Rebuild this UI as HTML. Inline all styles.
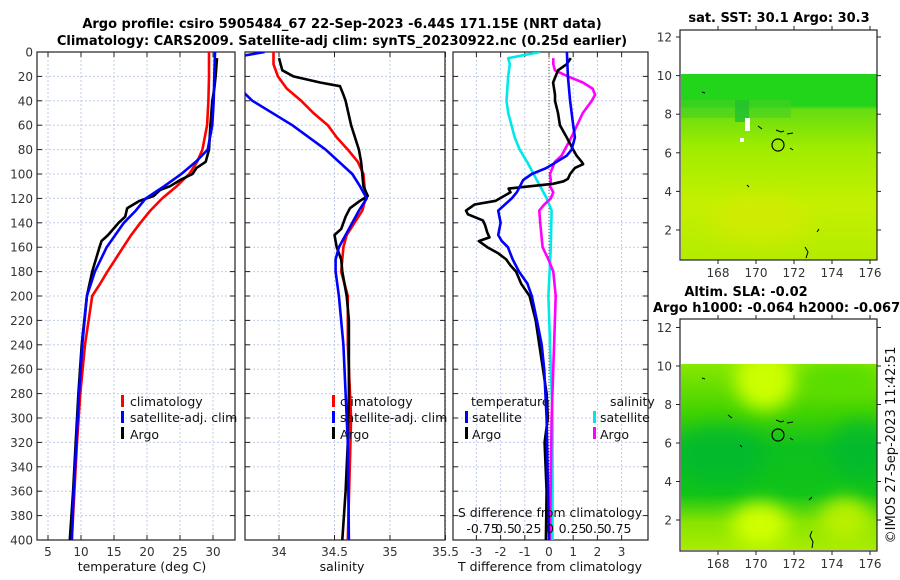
<!DOCTYPE html>
<html><head><meta charset="utf-8">
<style>
body{margin:0;background:#fff;}
svg{display:block;font-family:"DejaVu Sans","Liberation Sans",sans-serif;}
.tk{font-size:12px;fill:#333;}
.tt{font-size:13px;font-weight:bold;fill:#000;}
.lg{font-size:12.5px;fill:#111;}
</style></head>
<body>
<svg id="c" width="900" height="580" viewBox="0 0 900 580" xmlns="http://www.w3.org/2000/svg">
<defs>
<clipPath id="cp1"><rect x="37" y="52" width="198" height="488"/></clipPath>
<clipPath id="cp2"><rect x="245" y="52" width="200" height="488"/></clipPath>
<clipPath id="cp3"><rect x="453" y="52" width="195" height="488"/></clipPath>
<linearGradient id="m1g" x1="0" y1="0" x2="0" y2="1">
<stop offset="0" stop-color="#22d41a"/><stop offset="0.17" stop-color="#22d41a"/>
<stop offset="0.19" stop-color="#66dd11"/><stop offset="0.4" stop-color="#a0ec00"/>
<stop offset="0.7" stop-color="#c4f000"/><stop offset="1" stop-color="#b4ec00"/></linearGradient>
<linearGradient id="m2g" x1="0" y1="0" x2="0" y2="1">
<stop offset="0" stop-color="#88e800"/><stop offset="0.25" stop-color="#44d400"/>
<stop offset="0.45" stop-color="#0cc020"/><stop offset="0.7" stop-color="#10c418"/>
<stop offset="0.85" stop-color="#88e400"/><stop offset="1" stop-color="#a8ec00"/></linearGradient>
<filter id="bl" x="-50%" y="-50%" width="200%" height="200%"><feGaussianBlur stdDeviation="9"/></filter>
<clipPath id="cm2"><rect x="681" y="364" width="196" height="186"/></clipPath>
</defs>

<text class="tt" x="342" y="28" text-anchor="middle">Argo profile: csiro 5905484_67 22-Sep-2023 -6.44S 171.15E (NRT data)</text>
<text class="tt" x="342" y="45" text-anchor="middle">Climatology: CARS2009. Satellite-adj clim: synTS_20230922.nc (0.25d earlier)</text>

<g id="p1"></g>
<g id="p2"></g>
<g id="p3"></g>

<g>
<rect x="121" y="395" width="3" height="12" fill="#f00"/><text class="lg" x="130" y="406">climatology</text>
<rect x="121" y="411" width="3" height="12" fill="#00f"/><text class="lg" x="130" y="422">satellite-adj. clim</text>
<rect x="121" y="427" width="3" height="12" fill="#000"/><text class="lg" x="130" y="439">Argo</text>
</g>
<g>
<rect x="332" y="395" width="3" height="12" fill="#f00"/><text class="lg" x="340" y="406">climatology</text>
<rect x="332" y="411" width="3" height="12" fill="#00f"/><text class="lg" x="340" y="422">satellite-adj. clim</text>
<rect x="332" y="427" width="3" height="12" fill="#000"/><text class="lg" x="340" y="439">Argo</text>
</g>
<g>
<text class="lg" x="471" y="406">temperature</text><text class="lg" x="610" y="406">salinity</text>
<rect x="465" y="411" width="3" height="12" fill="#00f"/><text class="lg" x="472" y="422">satellite</text>
<rect x="465" y="427" width="3" height="12" fill="#000"/><text class="lg" x="472" y="439">Argo</text>
<rect x="593" y="411" width="3" height="12" fill="#00e5e5"/><text class="lg" x="600" y="422">satellite</text>
<rect x="593" y="427" width="3" height="12" fill="#f0f"/><text class="lg" x="600" y="439">Argo</text>
</g>
<text class="lg" x="550" y="517" text-anchor="middle">S difference from climatology</text>
<g id="slab"></g>

<text class="lg" x="142" y="571" text-anchor="middle">temperature (deg C)</text>
<text class="lg" x="342" y="571" text-anchor="middle">salinity</text>
<text class="lg" x="550" y="571" text-anchor="middle">T difference from climatology</text>

<text class="tt" x="779" y="22" text-anchor="middle">sat. SST: 30.1 Argo: 30.3</text>
<g>
<rect x="681" y="74" width="196" height="186" fill="url(#m1g)"/>
<rect x="681" y="100" width="110" height="18" fill="#44d022" opacity="0.6"/>
<rect x="735" y="100" width="14" height="22" fill="#22c030" opacity="0.8"/>
<rect x="745" y="118" width="5" height="13" fill="#fff"/>
<rect x="740" y="138" width="4" height="4" fill="#fff"/>
<ellipse cx="760" cy="220" rx="50" ry="25" fill="#d8ea00" opacity="0.6" filter="url(#bl)"/>
<circle cx="778" cy="145" r="6" fill="none" stroke="#000" stroke-width="1.2"/>
<path d="M776 130 l5 2 l3 -1 M787 134 l6 -1 M758 126 l4 3 M790 148 l3 2 M806 258 l2 -6 l-3 -5 M817 232 l2 -3 M702 92 l3 1 M747 185 l2 2" stroke="#000" fill="none" stroke-width="1"/>
</g>
<g id="m1ax"></g>

<text class="tt" x="746" y="296" text-anchor="middle">Altim. SLA: -0.02</text>
<text class="tt" x="653" y="312">Argo h1000: -0.064 h2000: -0.067</text>
<g clip-path="url(#cm2)">
<rect x="681" y="364" width="196" height="186" fill="url(#m2g)"/>
<ellipse cx="765" cy="380" rx="30" ry="30" fill="#ccff00" filter="url(#bl)"/>
<ellipse cx="840" cy="378" rx="40" ry="14" fill="#55dd00" filter="url(#bl)"/>
<ellipse cx="760" cy="525" rx="28" ry="22" fill="#d0ff00" filter="url(#bl)"/>
<ellipse cx="845" cy="520" rx="25" ry="22" fill="#b8f000" filter="url(#bl)"/>
<ellipse cx="720" cy="455" rx="45" ry="30" fill="#00b830" opacity="0.7" filter="url(#bl)"/>
<ellipse cx="860" cy="450" rx="30" ry="30" fill="#00b830" opacity="0.7" filter="url(#bl)"/>
<circle cx="778" cy="435" r="6" fill="none" stroke="#000" stroke-width="1.2"/>
<path d="M776 420 l5 2 l3 -1 M787 423 l6 -1 M728 415 l4 3 M790 438 l3 2 M812 548 l1 -6 l-3 -6 l2 -5 M809 500 l3 -3 M702 378 l3 1 M740 445 l2 2" stroke="#000" fill="none" stroke-width="1"/>
</g>
<g id="m2ax"></g>
<text class="lg" x="0" y="0" transform="translate(895,445) rotate(-90)" text-anchor="middle" style="font-size:13px">©IMOS 27-Sep-2023 11:42:51</text>
</svg>
<script>
const depthTicks=[0,20,40,60,80,100,120,140,160,180,200,220,240,260,280,300,320,340,360,380,400];
const tempTicks=[5,10,15,20,25,30];
const tClimD=[0,20,40,60,80,90,100,110,120,130,140,150,160,170,180,190,200,240,280,320,360,400];
const tClimV=[29.4,29.4,29.3,29.1,28.4,27.6,26.4,24.5,22.3,20.5,19,17.6,16.4,15.2,14,12.9,11.7,10.6,9.9,9.4,9.0,8.6];
const tSatD=[0,20,40,60,80,90,100,110,120,130,140,150,160,180,200,240,280,320,360,400];
const tSatV=[30.3,30.2,30.1,29.9,29.2,27.4,25.2,22.6,19.8,18.3,16.5,15.2,13.9,12.1,10.9,10.2,9.7,9.3,8.9,8.6];
const tArgoD=[5,20,30,40,60,80,90,95,100,105,110,113,118,122,128,135,140,150,155,160,180,200,240,280,320,360,400];
const tArgoV=[30.6,30.4,30.2,29.9,29.6,29.4,28.9,27.5,26.9,25,23.5,22,21,18.9,17,16.7,15.7,14.1,13.1,12.8,11.7,10.9,10.1,9.6,9.2,8.8,8.3];
const salTicks=[34,34.5,35,35.5];
const sClimD=[0,10,20,30,40,50,60,70,80,90,100,110,120,130,140,150,160,180,200,240,300,400];
const sClimV=[33.95,33.95,33.99,34.07,34.2,34.31,34.44,34.52,34.62,34.71,34.76,34.77,34.78,34.75,34.68,34.61,34.58,34.56,34.62,34.62,34.65,34.62];
const sSatD=[0,3,20,33,40,60,80,100,110,120,130,140,150,160,170,180,200,240,280,320,400];
const sSatV=[33.87,33.68,33.5,33.68,33.76,34.12,34.42,34.66,34.73,34.79,34.72,34.66,34.6,34.54,34.51,34.51,34.54,34.58,34.6,34.62,34.63];
const sArgoD=[5,15,20,25,28,35,40,60,80,90,100,110,118,122,128,135,145,150,160,170,180,200,220,240,280,320,360,400];
const sArgoV=[34.0,34.03,34.13,34.37,34.55,34.58,34.6,34.65,34.72,34.74,34.75,34.76,34.8,34.73,34.64,34.6,34.56,34.5,34.52,34.56,34.57,34.61,34.63,34.63,34.63,34.62,34.6,34.57];
const tDiffTicks=[-3,-2,-1,0,1,2,3];
const sDiffTicks=[-0.75,-0.5,-0.25,0,0.25,0.5,0.75];
const sDiffLabels=["-0.75","0.5","0.25","0","0.25","0.5","0.75"];
const dTSatD=[0,20,40,60,70,80,85,90,95,100,105,110,115,120,130,140,150,155,160,170,180,190,200,220,240,260,300,400];
const dTSatV=[0.74,0.78,0.87,1.0,1.07,0.94,0.73,0.32,-0.1,-0.71,-1.07,-1.2,-1.33,-1.54,-2.1,-2.0,-2.1,-1.95,-1.7,-1.5,-1.24,-0.89,-0.71,-0.5,-0.3,-0.2,-0.1,0];
const dTArgoD=[5,10,15,25,35,40,50,60,70,80,85,90,92,95,100,104,106,108,112,115,118,122,125,130,133,138,142,148,152,155,160,165,170,175,180,190,200,220,240,260,280,300,320,360,400];
const dTArgoV=[0.9,0.73,0.37,0.17,0.25,0.25,0.37,0.45,0.73,1.0,1.14,1.35,1.41,1.07,0.87,0.78,0.6,0.17,-1.67,-1.59,-1.86,-2.2,-3.07,-3.43,-3.35,-2.73,-2.64,-2.55,-2.46,-2.9,-2.55,-2.1,-1.77,-1.59,-1.36,-1.15,-0.8,-0.55,-0.4,-0.25,-0.1,-0.05,-0.18,-0.1,-0.13];
const dSSatD=[0,5,10,20,40,50,60,70,80,90,100,110,120,130,160,200,300,400];
const dSSatV=[-0.12,-0.51,-0.49,-0.51,-0.53,-0.51,-0.47,-0.43,-0.37,-0.28,-0.2,-0.12,-0.04,0.02,0.01,-0.02,0.03,0.03];
const dSArgoD=[5,10,15,20,25,30,35,40,50,60,70,80,85,90,100,105,110,115,120,125,130,140,160,170,180,200,220,300,400];
const dSArgoV=[0.04,0.04,0.06,0.22,0.4,0.52,0.55,0.51,0.4,0.33,0.26,0.18,0.14,0.06,0,0.01,0,0.04,0.01,-0.07,-0.13,-0.12,-0.09,-0.02,0.04,0.07,0.06,0.02,0.0];
const lonTicks=[168,170,172,174,176];
const latTicks=[2,4,6,8,10,12];

const NS="http://www.w3.org/2000/svg";
function mk(tag,attrs,parent){const e=document.createElementNS(NS,tag);for(const k in attrs)e.setAttribute(k,attrs[k]);parent.appendChild(e);return e;}
const yD=d=>52+d*1.22;
const xT=v=>48+(v-5)*6.6;
const xS=v=>279+(v-34)*111;
const xDT=v=>549+v*24.2;
const xDS=v=>550+v*82;
const xDSlab=v=>550+v*90;

function panel(g,x0,x1,xt,xf,showY){
  for(const d of depthTicks){
    const y=yD(d);
    const l=mk('line',{x1:x0,x2:x1,y1:y,y2:y,stroke:'#c0cbec','stroke-dasharray':'2,2','stroke-width':1},g);
    
    
    mk('line',{x1:x0,x2:x0+5,y1:y,y2:y,stroke:'#222'},g);
    mk('line',{x1:x1-5,x2:x1,y1:y,y2:y,stroke:'#222'},g);
    if(showY){const t=mk('text',{x:x0-4,y:y+4.5,'text-anchor':'end',class:'tk'},g);t.textContent=d;
      
      }
  }
  for(const v of xt){
    const x=xf(v);
    const l=mk('line',{x1:x,x2:x,y1:52,y2:540,stroke:'#c0cbec','stroke-dasharray':'2,2'},g);
    
    
    mk('line',{x1:x,x2:x,y1:535,y2:540,stroke:'#222'},g);
    mk('line',{x1:x,x2:x,y1:52,y2:57,stroke:'#222'},g);
    const t=mk('text',{x:x,y:556,'text-anchor':'middle',class:'tk'},g);t.textContent=v;
    
    
  }
  const b=mk('rect',{x:x0,y:52,width:x1-x0,height:488,fill:'none',stroke:'#222','stroke-width':1.2},g);
  
  
}
function line(g,D,V,xf,col,clip,name){
  const p=mk('polyline',{points:D.map((d,i)=>xf(V[i]).toFixed(1)+','+yD(d).toFixed(1)).join(' '),fill:'none',stroke:col,'stroke-width':2.6,'stroke-linejoin':'round','clip-path':'url(#'+clip+')'},g);
  
  
}
const p1=document.getElementById('p1'),p2=document.getElementById('p2'),p3=document.getElementById('p3');
panel(p1,37,235,tempTicks,xT,true);
line(p1,tClimD,tClimV,xT,'#f00','cp1','temp-climatology-line');
line(p1,tArgoD,tArgoV,xT,'#000','cp1','temp-argo-line');
line(p1,tSatD,tSatV,xT,'#00f','cp1','temp-satellite-line');
panel(p2,245,445,salTicks,xS,false);
line(p2,sClimD,sClimV,xS,'#f00','cp2','sal-climatology-line');
line(p2,sArgoD,sArgoV,xS,'#000','cp2','sal-argo-line');
line(p2,sSatD,sSatV,xS,'#00f','cp2','sal-satellite-line');
panel(p3,453,648,tDiffTicks,xDT,false);
const z=mk('line',{x1:xDT(0),x2:xDT(0),y1:52,y2:540,stroke:'#554',"stroke-dasharray":'1,2'},p3);


line(p3,dSSatD,dSSatV,xDS,'#00e8e8','cp3','sdiff-satellite-line');
line(p3,dSArgoD,dSArgoV,xDS,'#f0f','cp3','sdiff-argo-line');
line(p3,dTArgoD,dTArgoV,xDT,'#000','cp3','tdiff-argo-line');
line(p3,dTSatD,dTSatV,xDT,'#00f','cp3','tdiff-satellite-line');
const sl=document.getElementById('slab');
sDiffTicks.forEach((v,i)=>{
  const t=mk('text',{x:xDSlab(v),y:533,'text-anchor':'middle',class:'lg'},sl);
  t.textContent=sDiffLabels[i];
  
  
});
function mapAxes(g,y0,y1,latY){
  const x0=680,x1=877;
  for(const lo of lonTicks){
    const x=718+(lo-168)*19;
    mk('line',{x1:x,x2:x,y1:y1,y2:y1+4,stroke:'#222'},g);
    mk('line',{x1:x,x2:x,y1:y0-4,y2:y0,stroke:'#222'},g);
    const t=mk('text',{x:x,y:y1+17,'text-anchor':'middle',class:'tk'},g);t.textContent=lo;
    
    
  }
  for(const la of latTicks){
    const y=latY(la);
    mk('line',{x1:x0-4,x2:x0,y1:y,y2:y,stroke:'#222'},g);
    mk('line',{x1:x1,x2:x1+4,y1:y,y2:y,stroke:'#222'},g);
    const t=mk('text',{x:x0-8,y:y+4.5,'text-anchor':'end',class:'tk'},g);t.textContent=la;
    
    
  }
  const b=mk('rect',{x:x0,y:y0,width:x1-x0,height:y1-y0,fill:'none',stroke:'#222','stroke-width':1.2},g);
  
  
}
mapAxes(document.getElementById('m1ax'),30,260,la=>230-(la-2)*19.3);
mapAxes(document.getElementById('m2ax'),319,551,la=>520-(la-2)*19.25);
</script>
</body></html>
